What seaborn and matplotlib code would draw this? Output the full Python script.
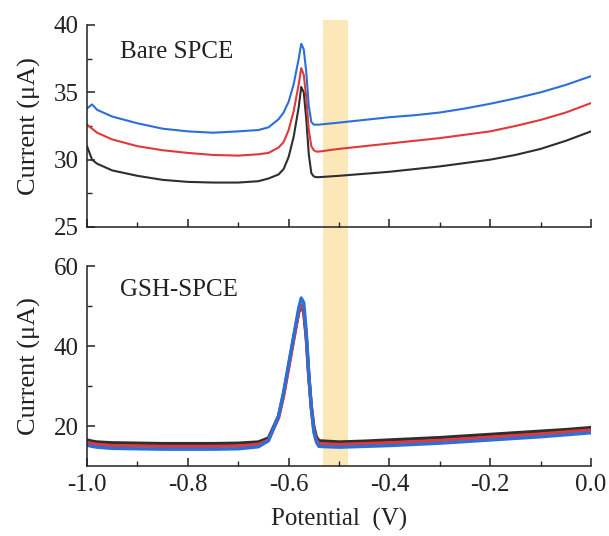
import matplotlib.pyplot as plt
import seaborn as sns
import numpy as np
import pandas as pd

# potential (V) sampling points
potential = [-1.0, -0.99, -0.98, -0.95, -0.9, -0.85, -0.8, -0.75, -0.7, -0.66,
             -0.64, -0.62, -0.61, -0.60, -0.59, -0.58, -0.575, -0.57, -0.565,
             -0.56, -0.555, -0.55, -0.545, -0.54, -0.5, -0.45, -0.4, -0.35,
             -0.3, -0.25, -0.2, -0.15, -0.1, -0.05, 0.0]

# Bare SPCE (top panel)
bare_blue = [33.8, 34.1, 33.7, 33.2, 32.7, 32.3, 32.1, 32.0, 32.1, 32.2,
             32.4, 33.0, 33.5, 34.3, 35.6, 37.5, 38.6, 38.2, 36.5,
             34.0, 32.8, 32.6, 32.6, 32.6, 32.75, 32.95, 33.15, 33.3,
             33.5, 33.8, 34.15, 34.55, 35.0, 35.55, 36.2]
bare_red = [32.6, 32.3, 32.0, 31.5, 31.0, 30.7, 30.5, 30.35, 30.3, 30.4,
            30.5, 30.9, 31.3, 32.2, 33.6, 35.6, 36.8, 36.3, 34.6,
            32.2, 31.0, 30.7, 30.6, 30.6, 30.8, 31.0, 31.2, 31.4,
            31.6, 31.85, 32.1, 32.5, 32.95, 33.5, 34.2]
bare_black = [31.0, 30.0, 29.7, 29.2, 28.8, 28.5, 28.35, 28.3, 28.3, 28.4,
              28.6, 28.9, 29.3, 30.2, 31.7, 33.9, 35.4, 35.0, 33.0,
              30.4, 29.0, 28.75, 28.7, 28.7, 28.8, 28.95, 29.1, 29.3,
              29.5, 29.75, 30.0, 30.35, 30.8, 31.4, 32.1]

# GSH-SPCE (bottom panel)
gsh_black = [16.5, 16.2, 16.0, 15.8, 15.7, 15.6, 15.6, 15.6, 15.7, 16.0,
             17.0, 22.5, 28.0, 35.0, 42.0, 48.5, 49.8, 48.5, 42.0,
             32.5, 25.0, 19.8, 17.3, 16.3, 16.0, 16.2, 16.5, 16.8,
             17.1, 17.5, 17.9, 18.3, 18.7, 19.1, 19.6]
gsh_red = [15.9, 15.6, 15.4, 15.1, 15.0, 14.9, 14.9, 14.9, 15.0, 15.4,
           16.5, 22.0, 27.5, 34.5, 41.5, 48.5, 50.2, 49.0, 42.5,
           32.5, 24.5, 19.0, 16.6, 15.6, 15.4, 15.6, 15.8, 16.1,
           16.4, 16.8, 17.2, 17.6, 18.0, 18.5, 19.0]
gsh_blue = [15.2, 14.9, 14.7, 14.4, 14.3, 14.2, 14.2, 14.2, 14.3, 14.8,
            16.3, 22.5, 28.5, 35.5, 42.5, 49.5, 52.0, 50.8, 43.5,
            33.0, 24.5, 18.5, 16.0, 14.9, 14.7, 14.9, 15.1, 15.4,
            15.7, 16.1, 16.5, 16.9, 17.3, 17.8, 18.3]

band = (-0.532, -0.482)

sns.set_theme(style="ticks")
plt.rcParams['font.family'] = ['Liberation Serif', 'DejaVu Serif']

colors = {"black": "#2e2e2e", "red": "#e0393b", "blue": "#2b6fd8"}
fs = 18

fig = plt.figure(figsize=(6.09, 5.36), dpi=100)

# background axes for the highlighted band spanning both panels
ax_bg = fig.add_axes([0.1429, 0.1306, 0.8276, 0.8321])
ax_bg.set_xlim(-1.0, 0.0)
ax_bg.axvspan(band[0], band[1], color="#fbe7b8", lw=0)
ax_bg.set_axis_off()

ax1 = fig.add_axes([0.1429, 0.5765, 0.8276, 0.3769])
ax2 = fig.add_axes([0.1429, 0.1306, 0.8276, 0.3731])

df_top = pd.DataFrame({"x": potential, "black": bare_black, "red": bare_red, "blue": bare_blue})
df_bot = pd.DataFrame({"x": potential, "black": gsh_black, "red": gsh_red, "blue": gsh_blue})

for name in ["black", "red", "blue"]:
    sns.lineplot(data=df_top, x="x", y=name, ax=ax1, color=colors[name], lw=1.5)
    sns.lineplot(data=df_bot, x="x", y=name, ax=ax2, color=colors[name], lw=2.4)

for ax in (ax1, ax2):
    ax.patch.set_visible(False)
    sns.despine(ax=ax)
    ax.set_xlim(-1.0, 0.0)
    ax.set_xticks(np.arange(-1.0, 0.01, 0.2))
    ax.set_xticks(np.arange(-1.0, 0.01, 0.1), minor=True)
    ax.tick_params(which="major", direction="in", length=6, width=1.1, labelsize=fs,
                   colors="#222222", pad=6)
    ax.tick_params(which="minor", direction="in", length=3.5, width=1.0)
    for s in ("left", "bottom"):
        ax.spines[s].set_linewidth(1.1)
        ax.spines[s].set_color("#222222")
    ax.set_ylabel("Current (μA)", fontsize=fs + 1, labelpad=9, color="#222222")

ax1.set_ylim(25, 40)
ax1.set_yticks([25, 30, 35, 40])
ax1.set_yticks([27.5, 32.5, 37.5], minor=True)
ax1.set_xticklabels([])
ax1.set_xlabel("")
ax1.text(0.065, 0.866, "Bare SPCE", transform=ax1.transAxes, fontsize=fs,
         va="center", color="#222222")

ax2.set_ylim(10, 60)
ax2.set_yticks([20, 40, 60])
ax2.set_yticks([30, 50], minor=True)
ax2.set_xticklabels(["-1.0", "-0.8", "-0.6", "-0.4", "-0.2", "0.0"])
ax2.set_xlabel("Potential  (V)", fontsize=fs, labelpad=8, color="#222222")
ax2.text(0.065, 0.88, "GSH-SPCE", transform=ax2.transAxes, fontsize=fs,
         va="center", color="#222222")

fig.savefig("out.png", dpi=100)
